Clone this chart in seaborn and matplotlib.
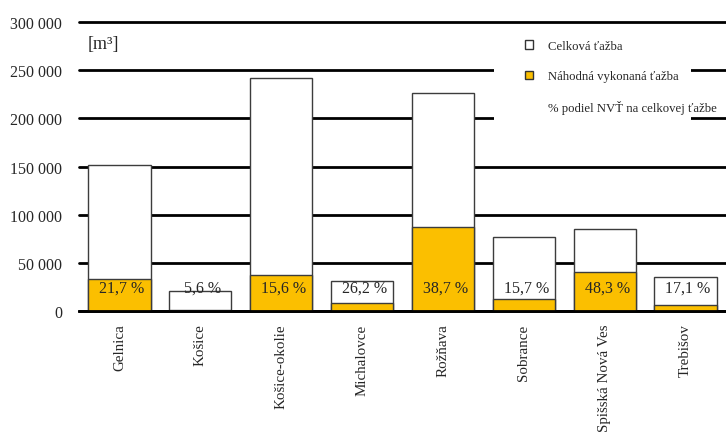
import matplotlib
matplotlib.use("Agg")
import matplotlib.pyplot as plt
import seaborn as sns
import pandas as pd
from matplotlib.patches import Patch, Rectangle
from matplotlib.ticker import FuncFormatter

categories = ["Gelnica", "Košice", "Košice-okolie", "Michalovce", "Rožňava",
              "Sobrance", "Spišská Nová Ves", "Trebišov"]
total = [152000, 20800, 242000, 31300, 226000, 76300, 85000, 35800]
random_cut = [32900, 1200, 37800, 8200, 87500, 12000, 41000, 6100]
pct_labels = ["21,7 %", "5,6 %", "15,6 %", "26,2 %", "38,7 %", "15,7 %", "48,3 %", "17,1 %"]
legend_labels = ["Celková ťažba", "Náhodná vykonaná ťažba", "% podiel NVŤ na celkovej ťažbe"]
yticks = [0, 50000, 100000, 150000, 200000, 250000, 300000]

sns.set_style("white")
plt.rcParams["font.family"] = ["Liberation Serif", "DejaVu Serif"]

df = pd.DataFrame({"cat": categories, "total": total, "rand": random_cut})

fig = plt.figure(figsize=(7.26, 4.35), dpi=100)
ax = fig.add_axes([79 / 726, 1 - 312 / 435, 1 - 79 / 726, (312 - 23) / 435])

gold = "#FBBF00"
edge = "#3c3c3c"
sns.barplot(data=df, x="cat", y="total", color="white", edgecolor=edge,
            linewidth=1.0, width=0.77, saturation=1, ax=ax, zorder=2)
sns.barplot(data=df, x="cat", y="rand", color=gold, edgecolor=edge,
            linewidth=1.0, width=0.77, saturation=1, ax=ax, zorder=3)

ax.set_ylim(0, 300000)
ax.set_xlim(-0.5, 7.5)
ax.set_yticks(yticks)
ax.yaxis.set_major_formatter(FuncFormatter(lambda v, p: f"{v:,.0f}".replace(",", " ")))
ax.set_axisbelow(True)
ax.yaxis.grid(True, color="black", linewidth=2.0)
for s in ["left", "right", "top"]:
    ax.spines[s].set_visible(False)
ax.spines["bottom"].set_color("black")
ax.spines["bottom"].set_linewidth(2.0)
ax.spines["bottom"].set_zorder(4)
ax.tick_params(axis="y", length=0, pad=12, labelsize=11.5)
ax.tick_params(axis="x", length=0, pad=9, labelsize=10.8, rotation=90)
ax.set_xlabel("")
ax.set_ylabel("")
for lbl in ax.get_xticklabels():
    lbl.set_va("top")
for gl in ax.yaxis.get_gridlines():
    gl.set_clip_on(False)

for i, t in enumerate(pct_labels):
    ax.text(i + 0.03, 24500, t, ha="center", va="center", fontsize=11.5, zorder=5)

ax.text(0.014, 0.925, "[m³]", transform=ax.transAxes, fontsize=13, ha="left", va="center")

# white legend background
ax.add_patch(Rectangle(((494 - 79) / 647, (312 - 126) / 289), (691 - 494) / 647,
                       (126 - 27) / 289, transform=ax.transAxes, facecolor="white",
                       edgecolor="none", zorder=1))

handles = [Patch(facecolor="white", edgecolor="#333333", linewidth=1.0),
           Patch(facecolor=gold, edgecolor="#333333", linewidth=1.0),
           Patch(facecolor="none", edgecolor="none")]
leg = ax.legend(handles, legend_labels, loc="upper left",
                bbox_to_anchor=((525 - 79) / 647, (312 - 41) / 289),
                frameon=False, fontsize=9.2, handlelength=0.62, handleheight=0.62,
                handletextpad=1.2, labelspacing=1.42, borderpad=0, borderaxespad=0)
leg.set_zorder(6)

fig.savefig("out.png", dpi=100)
